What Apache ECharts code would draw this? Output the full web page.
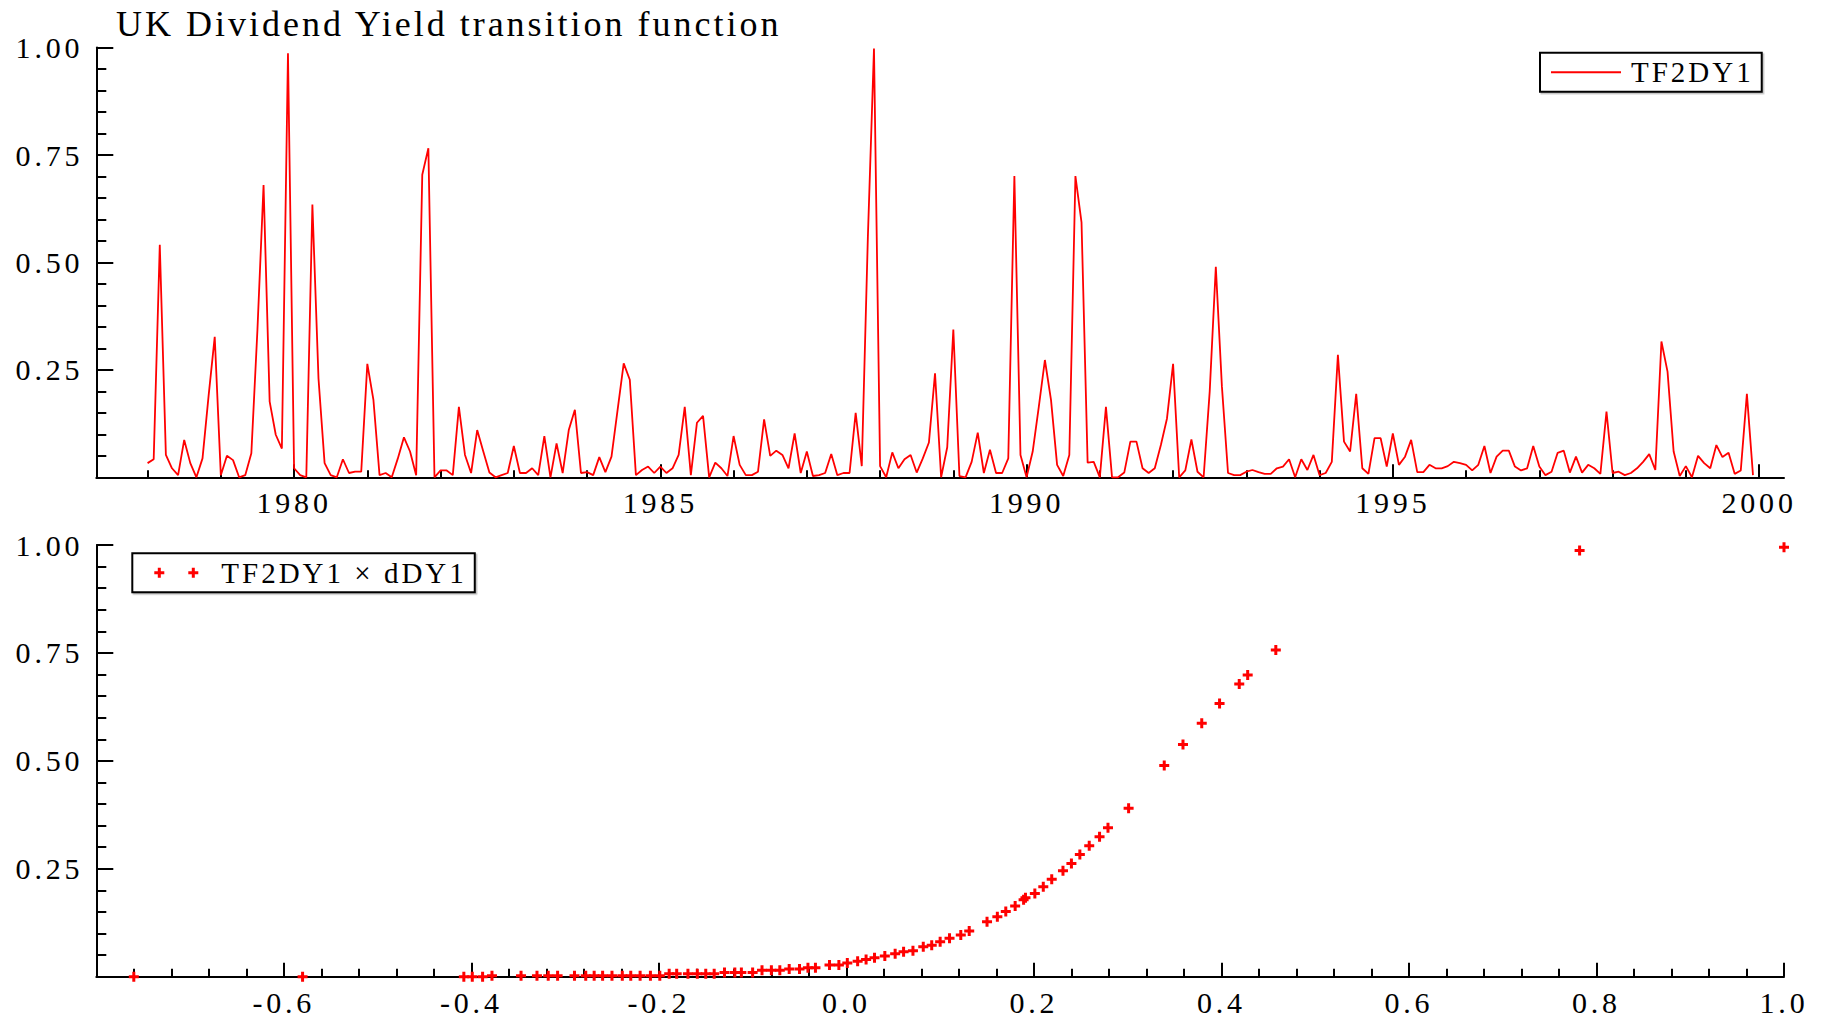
<!DOCTYPE html>
<html>
<head>
<meta charset="utf-8">
<script src="https://cdn.jsdelivr.net/npm/echarts@6/dist/echarts.min.js"></script>
<style>
  html, body { margin: 0; padding: 0; background: #fff; }
  #chart { width: 1821px; height: 1019px; }
  #chart text { letter-spacing: 3px !important; }
  #chart text[text-anchor="end"], #chart text[text-anchor="middle"] { letter-spacing: 3.8px !important; }
</style>
</head>
<body>
<div id="chart"></div>
<script>
// ---- Data ----
const startYear = 1978;          // first monthly observation (Jan 1978)
const tf2dy1 = [
  0.033, 0.042, 0.541, 0.052, 0.021, 0.005, 0.087, 0.033, 0.0, 0.044, 0.19, 0.327,
  0.005, 0.05, 0.04, 0.0, 0.005, 0.056, 0.344, 0.68, 0.176, 0.099, 0.067, 0.987,
  0.021, 0.005, 0.0, 0.635, 0.23, 0.033, 0.005, 0.0, 0.042, 0.01, 0.013, 0.013,
  0.264, 0.18, 0.005, 0.01, 0.0, 0.044, 0.093, 0.06, 0.005, 0.704, 0.766, 0.0,
  0.016, 0.016, 0.005, 0.164, 0.052, 0.01, 0.11, 0.06, 0.011, 0.0, 0.005, 0.01,
  0.073, 0.01, 0.01, 0.021, 0.005, 0.096, 0.0, 0.079, 0.01, 0.11, 0.157, 0.01,
  0.012, 0.005, 0.047, 0.012, 0.048, 0.157, 0.265, 0.227, 0.005, 0.017, 0.025, 0.01,
  0.025, 0.01, 0.021, 0.052, 0.164, 0.005, 0.127, 0.143, 0.0, 0.034, 0.021, 0.003,
  0.096, 0.029, 0.005, 0.005, 0.013, 0.135, 0.05, 0.062, 0.052, 0.021, 0.102, 0.01,
  0.06, 0.003, 0.005, 0.01, 0.054, 0.005, 0.01, 0.01, 0.15, 0.026, 0.56, 0.998,
  0.026, 0.0, 0.058, 0.021, 0.042, 0.052, 0.011, 0.044, 0.081, 0.242, 0.0, 0.07,
  0.344, 0.003, 0.0, 0.036, 0.104, 0.01, 0.064, 0.01, 0.01, 0.044, 0.701, 0.052,
  0.0, 0.06, 0.164, 0.273, 0.18, 0.029, 0.003, 0.052, 0.701, 0.593, 0.034, 0.036,
  0.0, 0.164, 0.0, 0.0, 0.011, 0.083, 0.083, 0.021, 0.01, 0.021, 0.075, 0.137,
  0.264, 0.0, 0.016, 0.088, 0.013, 0.0, 0.2, 0.49, 0.211, 0.01, 0.005, 0.005,
  0.013, 0.017, 0.012, 0.008, 0.008, 0.021, 0.025, 0.042, 0.0, 0.042, 0.017, 0.052,
  0.005, 0.01, 0.036, 0.285, 0.083, 0.06, 0.194, 0.021, 0.008, 0.091, 0.091, 0.025,
  0.102, 0.029, 0.048, 0.087, 0.012, 0.012, 0.029, 0.021, 0.021, 0.026, 0.036, 0.033,
  0.029, 0.016, 0.029, 0.073, 0.01, 0.048, 0.062, 0.062, 0.025, 0.016, 0.021, 0.073,
  0.025, 0.005, 0.013, 0.057, 0.062, 0.011, 0.048, 0.011, 0.029, 0.021, 0.008, 0.153,
  0.01, 0.013, 0.005, 0.01, 0.021, 0.036, 0.054, 0.017, 0.316, 0.246, 0.06, 0.003,
  0.026, 0.0, 0.05, 0.033, 0.021, 0.075, 0.047, 0.057, 0.008, 0.016, 0.194, 0.005
];
const dDY1 = [
  -0.760, -0.580,
  -0.408, -0.399, -0.388, -0.378, -0.347, -0.330, -0.318, -0.308,
  -0.290, -0.278, -0.269, -0.260, -0.250, -0.239, -0.230, -0.220, -0.209, -0.199,
  -0.189, -0.181, -0.169, -0.159, -0.150, -0.141,
  -0.130, -0.119, -0.112, -0.100, -0.090, -0.080, -0.071, -0.061, -0.050, -0.041, -0.033,
  -0.018, -0.008, 0.001, 0.012, 0.021, 0.030, 0.041, 0.052, 0.061, 0.071, 0.082, 0.091,
  0.100, 0.110, 0.122, 0.131, 0.150, 0.161, 0.170, 0.180, 0.189, 0.191, 0.201, 0.210,
  0.219, 0.231, 0.240, 0.249, 0.259, 0.270, 0.279, 0.301, 0.339, 0.359, 0.379, 0.398,
  0.419, 0.428, 0.458, 0.782, 1.000
];
const tfAtDY1 = [
  0.0, 0.0,
  0.0, 0.0, 0.0, 0.002, 0.002, 0.002, 0.002, 0.002,
  0.002, 0.002, 0.002, 0.002, 0.002, 0.002, 0.002, 0.002, 0.002, 0.002,
  0.007, 0.007, 0.007, 0.007, 0.007, 0.007,
  0.010, 0.010, 0.010, 0.010, 0.015, 0.015, 0.015, 0.018, 0.018, 0.021, 0.021,
  0.027, 0.027, 0.032, 0.036, 0.040, 0.044, 0.048, 0.053, 0.058, 0.060, 0.0695, 0.073,
  0.081, 0.089, 0.0965, 0.106, 0.127, 0.139, 0.151, 0.164, 0.178, 0.183, 0.193, 0.2085,
  0.2255, 0.2455, 0.2625, 0.283, 0.3035, 0.324, 0.345, 0.390, 0.489, 0.538, 0.587, 0.633,
  0.678, 0.699, 0.757, 0.987, 0.995
];
const yearTicks = [1978,1979,1980,1981,1982,1983,1984,1985,1986,1987,1988,1989,1990,1991,1992,1993,1994,1995,1996,1997,1998,1999,2000];
const yearLabels = [1980, 1985, 1990, 1995, 2000];
const titleText = 'UK Dividend Yield transition function';
const lineName = 'TF2DY1';
const scatterName = 'TF2DY1 \u00d7 dDY1';

// ---- Build ----
const lineData = tf2dy1.map((v, i) => [startYear + i / 12, v]);
const scatterData = dDY1.map((x, i) => [x, tfAtDY1[i]]);

const FONT = '"Liberation Serif", "Times New Roman", serif';
const RED = '#ff0000';
const axisLineStyle = { color: '#000', width: 2 };
const tickLineStyle = { color: '#000', width: 2 };
const labelStyle = { fontFamily: FONT, fontSize: 30, color: '#000' };
const legendTextStyle = { fontFamily: FONT, fontSize: 29, color: '#000' };
const plusPath = 'path://M3.5,0H6.5V3.5H10V6.5H6.5V10H3.5V6.5H0V3.5H3.5Z';
const twoPlusPath = 'path://M3.5,0H6.5V3.5H10V6.5H6.5V10H3.5V6.5H0V3.5H3.5Z M37.5,0H40.5V3.5H44V6.5H40.5V10H37.5V6.5H34V3.5H37.5Z';

const X0 = 96.3, XW = 1687.7;

function yAxisFor(grid) {
  return {
    gridIndex: grid, type: 'value', min: 0, max: 1, interval: 0.25,
    axisLine: { show: true, onZero: false, lineStyle: axisLineStyle },
    axisTick: { show: true, inside: true, length: 17, lineStyle: tickLineStyle },
    minorTick: { show: true, splitNumber: 5, length: 10, lineStyle: tickLineStyle },
    axisLabel: Object.assign({ margin: 13, formatter: v => (Math.abs(v) < 1e-9 ? '' : v.toFixed(2)) }, labelStyle),
    splitLine: { show: false }, minorSplitLine: { show: false }
  };
}

const option = {
  animation: false,
  backgroundColor: '#fff',
  title: {
    text: titleText, left: 116, top: 6, padding: 0,
    textStyle: { fontFamily: FONT, fontSize: 36, fontWeight: 'normal', color: '#000' }
  },
  legend: [
    {
      data: [{ name: lineName, icon: 'path://M0,0H70V2H0Z' }],
      left: 1540, top: 52.7, orient: 'horizontal',
      padding: [5, 26, 5, 11], itemWidth: 70, itemHeight: 2, itemGap: 0,
      borderColor: '#000', borderWidth: 2, backgroundColor: '#fff',
      shadowColor: 'rgba(0,0,0,0.25)', shadowOffsetX: 1.5, shadowOffsetY: 1.5,
      itemStyle: { borderWidth: 0 },
      textStyle: Object.assign({ padding: [0, 0, 0, 5] }, legendTextStyle),
      selectedMode: false
    },
    {
      data: [{ name: scatterName, icon: twoPlusPath }],
      left: 132.3, top: 553.3, orient: 'horizontal',
      padding: [5, 47, 5, 22], itemWidth: 44, itemHeight: 10, itemGap: 0,
      borderColor: '#000', borderWidth: 2, backgroundColor: '#fff',
      shadowColor: 'rgba(0,0,0,0.25)', shadowOffsetX: 1.5, shadowOffsetY: 1.5,
      itemStyle: { borderWidth: 0 },
      textStyle: Object.assign({ padding: [0, 0, 0, 18] }, legendTextStyle),
      selectedMode: false
    }
  ],
  grid: [
    { left: X0, top: 47.6, width: XW, height: 429.7 },
    { left: X0, top: 545, width: XW, height: 431.7 }
  ],
  xAxis: [
    {
      gridIndex: 0, type: 'value', min: 1977.3, max: 2000.34, position: 'bottom',
      axisLine: { show: true, onZero: false, lineStyle: axisLineStyle },
      axisTick: { show: true, inside: true, length: 7, customValues: yearTicks, lineStyle: tickLineStyle },
      axisLabel: { show: false },
      splitLine: { show: false }
    },
    {
      gridIndex: 0, type: 'value', min: 1977.3, max: 2000.34, position: 'bottom',
      axisLine: { show: false, onZero: false },
      axisTick: { show: true, inside: true, length: 13, customValues: yearLabels, lineStyle: tickLineStyle },
      axisLabel: Object.assign({ show: true, margin: 10, customValues: yearLabels, formatter: v => String(Math.round(v)) }, labelStyle),
      splitLine: { show: false }
    },
    {
      gridIndex: 1, type: 'value', min: -0.8, max: 1.0, interval: 0.2, position: 'bottom',
      axisLine: { show: true, onZero: false, lineStyle: axisLineStyle },
      axisTick: { show: true, inside: true, length: 14, lineStyle: tickLineStyle },
      minorTick: { show: true, splitNumber: 5, length: 8, lineStyle: tickLineStyle },
      axisLabel: Object.assign({
        margin: 11,
        formatter: v => {
          if (Math.abs(v + 0.8) < 1e-6) return '';
          if (Math.abs(v) < 1e-9) v = 0;
          return v.toFixed(1);
        }
      }, labelStyle),
      splitLine: { show: false }, minorSplitLine: { show: false }
    }
  ],
  yAxis: [yAxisFor(0), yAxisFor(1)],
  series: [
    {
      name: lineName, type: 'line', xAxisIndex: 0, yAxisIndex: 0,
      data: lineData, symbol: 'none', showSymbol: false,
      color: RED, lineStyle: { color: RED, width: 1.8 }, clip: false
    },
    {
      name: scatterName, type: 'scatter', xAxisIndex: 2, yAxisIndex: 1,
      data: scatterData, symbol: plusPath, symbolSize: 10,
      color: RED, itemStyle: { color: RED, opacity: 1 }, clip: false
    }
  ]
};

const chart = echarts.init(document.getElementById('chart'), null, { renderer: 'svg' });
chart.setOption(option);
</script>
</body>
</html>
